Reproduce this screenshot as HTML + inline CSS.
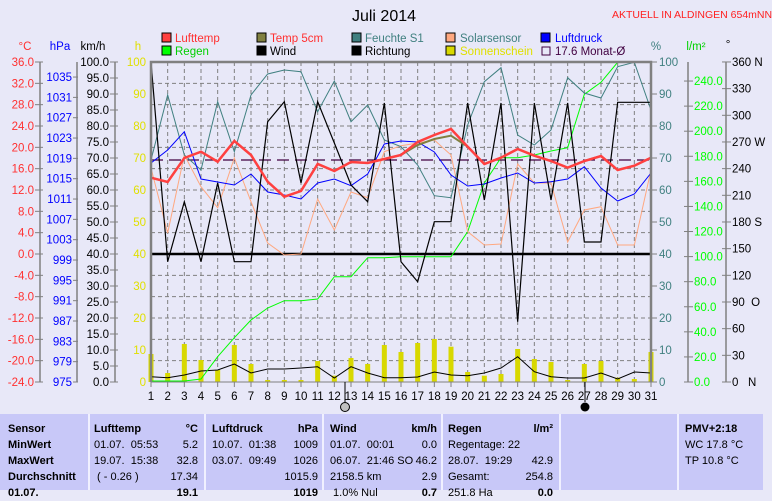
<!DOCTYPE html>
<html><head><meta charset="utf-8"><style>
body{margin:0;background:#e8e8f8;width:772px;height:490px;overflow:hidden;font-family:"Liberation Sans",sans-serif}
svg{position:absolute;left:0;top:0}
text{font-family:"Liberation Sans",sans-serif}
</style></head><body>
<svg id="s" width="772" height="490" xmlns="http://www.w3.org/2000/svg">
<rect width="772" height="490" fill="#e8e8f8"/>
<text x="384" y="21" font-size="16" text-anchor="middle" fill="#000">Juli 2014</text>
<text x="612" y="18" font-size="10.5" fill="#ff2020">AKTUELL IN ALDINGEN 654mNN</text>
<g font-size="11.5">
<rect x="162" y="33" width="9" height="9" fill="#ff4040" stroke="#000"/><text x="175" y="42" fill="#ff3030">Lufttemp</text>
<rect x="257" y="33" width="9" height="9" fill="#808040" stroke="#000"/><text x="270" y="42" fill="#ff3030">Temp 5cm</text>
<rect x="352" y="33" width="9" height="9" fill="#408080" stroke="#000"/><text x="365" y="42" fill="#408080">Feuchte S1</text>
<rect x="446" y="33" width="9" height="9" fill="#ffa880" stroke="#000"/><text x="460" y="42" fill="#408080">Solarsensor</text>
<rect x="541" y="33" width="9" height="9" fill="#0000ff" stroke="#000"/><text x="555" y="42" fill="#0000ff">Luftdruck</text>
<rect x="162" y="46" width="9" height="9" fill="#00ff00" stroke="#000"/><text x="175" y="55" fill="#00d000">Regen</text>
<rect x="257" y="46" width="9" height="9" fill="#000" stroke="#000"/><text x="270" y="55" fill="#000">Wind</text>
<rect x="352" y="46" width="9" height="9" fill="#000" stroke="#000"/><text x="365" y="55" fill="#000">Richtung</text>
<rect x="446" y="46" width="9" height="9" fill="#d8d800" stroke="#000"/><text x="460" y="55" fill="#e0e000">Sonnenschein</text>
<rect x="542" y="47" width="8" height="8" fill="none" stroke="#400040"/><text x="555" y="55" fill="#400040">17.6 Monat-Ø</text>
<text x="25" y="50" fill="#ff3030" text-anchor="middle">°C</text>
<text x="60" y="50" fill="#0000ff" text-anchor="middle">hPa</text>
<text x="93" y="50" fill="#000" text-anchor="middle">km/h</text>
<text x="138" y="50" fill="#e0e000" text-anchor="middle">h</text>
<text x="656" y="50" fill="#408080" text-anchor="middle">%</text>
<text x="696" y="50" fill="#00d000" text-anchor="middle">l/m²</text>
<text x="728" y="48" fill="#000" text-anchor="middle">°</text>
</g>
<g id="g"></g>
</svg>
<script>
var ns="http://www.w3.org/2000/svg",g=document.getElementById("g");
function el(t,a,txt){var e=document.createElementNS(ns,t);for(var k in a)e.setAttribute(k,a[k]);if(txt!==undefined)e.textContent=txt;g.appendChild(e);return e;}
function X(d){return 151+(d-1)*500/30;}
for(var d=2;d<=30;d++)el("line",{x1:X(d),y1:62,x2:X(d),y2:382,stroke:"#808080","stroke-dasharray":"4,3","stroke-width":1});
for(var i=1;i<15;i++){var y=62+i*320/15;el("line",{x1:151,y1:y,x2:651,y2:y,stroke:"#808080","stroke-dasharray":"4,3","stroke-width":1});}
var sun=[354,373,344,360,370,345,364,380,380,380,361,375.7,358,364,345,352,343,339,346.7,372,375.7,374,349,359,362,380,364,361,377.7,379,352];
sun.forEach(function(t,i){var x=X(i+1);el("rect",{x:x-2.5,y:t,width:5,height:382-t,fill:"#d8d800"});});
function pl(ys,col,w){var p=ys.map(function(y,i){return X(i+1)+","+y;}).join(" ");el("polyline",{points:p,fill:"none",stroke:col,"stroke-width":w});}
el("line",{x1:151,y1:254,x2:651,y2:254,stroke:"#000","stroke-width":2.5});
el("line",{x1:151,y1:160,x2:651,y2:160,stroke:"#400040","stroke-width":1.2,"stroke-dasharray":"12,6"});
pl([376.7,377.7,375,371,370,364,373,369,369,368,366.7,378,366.7,373,377.7,377.7,377,372,375,375.7,373,368,356.7,371.7,376.7,378,378,373,379,372,373],"#000",1);
pl([381,381,381,379,356.7,337.7,320,308,300.7,300.7,299,276.7,276.7,257.7,257.7,256.7,256.7,256.7,256.7,231.7,183,157.7,157.7,155,151,147.7,94.3,82.3,62.3,61.7,61.7],"#00ff00",1);
pl([168,233,155,186.7,207.7,158,201.7,243,255,254,199,230,192,197.7,151.7,145.7,143,140,155,231.7,245,244,164,183,183,242,210,206.7,245,245,170],"#ffa880",1);
pl([160,95,155,170,101.7,151.7,95,74,70,71.7,111.7,81,121.7,105,140,146.7,165,195.7,197.7,125,81.7,67.7,135,145,130,77.7,93,98,66.7,62.3,110],"#408080",1);
pl([163,150,131.7,179,182,185,174,192,195,199,183,179,185.7,174,144,141,142,152,175,186,184,178,173,183,181.7,179,166.7,188,201,194,173],"#0000ff",1);
pl([62,261.7,201.7,261.7,183,261.7,261.7,121.7,101.7,183,101.7,143,185,201.7,103,261.7,281.7,221.7,221.7,103,200,103,321.7,103,200,103,242,242,102.3,102.3,102.3],"#000",1.2);
var lt=[177.7,182,158,151.7,161.7,141,155,181.7,196.7,191,164,171,162,163,159,155,142,135,129,146.7,164,157.7,149,155.7,161,167.7,161,156,170,165.7,157.7];
var t5=lt.slice();t5[17]=139;t5[18]=135.7;t5[16]=145;
pl(t5,"#808040",2);
pl(lt,"#ff4040",2.5);
el("polyline",{points:"151,382 151,62 651,62 651,382",fill:"none",stroke:"#808080","stroke-width":2.5});
el("line",{x1:151,y1:382,x2:651,y2:382,stroke:"#808080","stroke-width":1});
for(var d=1;d<=31;d++){el("line",{x1:X(d),y1:382,x2:X(d),y2:387,stroke:"#808080"});el("text",{x:X(d),y:400,"font-size":11.5,"text-anchor":"middle"},""+d);}
el("circle",{cx:345,cy:407,r:4.5,fill:"#c0c0c0",stroke:"#000"});
el("circle",{cx:585,cy:407,r:4.5,fill:"#000"});
el("line",{x1:345,y1:382,x2:345,y2:402,stroke:"#000"});
el("line",{x1:585,y1:382,x2:585,y2:402,stroke:"#000"});
var ax=[40,77,115];ax.forEach(function(x){el("line",{x1:x,y1:62,x2:x,y2:382,stroke:"#808080","stroke-width":1.5});});
for(var i=0;i<=15;i++){var y=62+i*320/15,v=36-4*i;
 el("line",{x1:35,y1:y,x2:43,y2:y,stroke:"#808080"});
 el("text",{x:34,y:y+4,"font-size":11.5,fill:"#ff3030","text-anchor":"end"},v.toFixed(1));}
for(var i=0;i<=15;i++){var y=382-i*20.33,v=975+4*i;
 el("line",{x1:73,y1:y,x2:78,y2:y,stroke:"#808080"});
 el("text",{x:72,y:y+4,"font-size":11.5,fill:"#0000ff","text-anchor":"end"},""+v);}
for(var i=0;i<=20;i++){var y=382-i*16,v=5*i;
 el("line",{x1:110,y1:y,x2:118,y2:y,stroke:"#808080"});
 el("text",{x:109,y:y+4,"font-size":11.5,fill:"#000","text-anchor":"end"},v.toFixed(1));}
for(var i=0;i<=10;i++){var y=382-i*32;
 el("text",{x:146,y:y+4,"font-size":11.5,fill:"#e0e000","text-anchor":"end"},""+(10*i));
 el("text",{x:659,y:y+4,"font-size":11.5,fill:"#408080"},""+(10*i));
 el("line",{x1:651,y1:y,x2:657,y2:y,stroke:"#808080"});}
el("line",{x1:688,y1:62,x2:688,y2:382,stroke:"#808080","stroke-width":1.5});
for(var i=0;i<=12;i++){var y=382-i*25.08;
 el("line",{x1:684,y1:y,x2:693,y2:y,stroke:"#808080"});
 el("text",{x:694,y:y+4,"font-size":11.5,fill:"#00ff00"},(20*i).toFixed(1));}
el("line",{x1:726,y1:62,x2:726,y2:382,stroke:"#808080","stroke-width":1.5});
var dl=["0   N","30","60","90  O","120","150","180 S","210","240","270 W","300","330","360 N"];
for(var i=0;i<=12;i++){var y=382-i*26.67;
 el("line",{x1:722,y1:y,x2:731,y2:y,stroke:"#808080"});
 var t=el("text",{x:732,y:y+4,"font-size":11.5,fill:"#000"},dl[i]);t.style.whiteSpace="pre";}
</script>
<div style="position:absolute;left:0;top:414px;width:763px;height:76px;background:#c8c8f8"></div>
<div style="position:absolute;top:414px;left:88px;width:2px;height:76px;background:#f0f0ff"></div>
<div style="position:absolute;top:414px;left:204px;width:2px;height:76px;background:#f0f0ff"></div>
<div style="position:absolute;top:414px;left:322px;width:2px;height:76px;background:#f0f0ff"></div>
<div style="position:absolute;top:414px;left:441px;width:2px;height:76px;background:#f0f0ff"></div>
<div style="position:absolute;top:414px;left:559px;width:2px;height:76px;background:#f0f0ff"></div>
<div style="position:absolute;top:414px;left:677px;width:2px;height:76px;background:#f0f0ff"></div>
<div style="position:absolute;top:421px;left:0;width:772px;font-size:11px;line-height:16px">
<div style="position:absolute;left:8px;font-weight:bold">Sensor<br>MinWert<br>MaxWert<br>Durchschnitt<br>01.07.</div>
<div style="position:absolute;left:94px;width:104px"><b>Lufttemp</b><br>01.07. &nbsp;05:53<br>19.07. &nbsp;15:38<br>&nbsp;( - 0.26 )<br></div>
<div style="position:absolute;left:94px;width:104px;text-align:right"><b>°C</b><br>5.2<br>32.8<br>17.34<br><b>19.1</b></div>
<div style="position:absolute;left:212px;width:106px"><b>Luftdruck</b><br>10.07. &nbsp;01:38<br>03.07. &nbsp;09:49</div>
<div style="position:absolute;left:212px;width:106px;text-align:right"><b>hPa</b><br>1009<br>1026<br>1015.9<br><b>1019</b></div>
<div style="position:absolute;left:330px;width:107px"><b>Wind</b><br>01.07. &nbsp;00:01<br>06.07. &nbsp;21:46 SO<br>2158.5 km<br>&nbsp;1.0% Nul</div>
<div style="position:absolute;left:330px;width:107px;text-align:right"><b>km/h</b><br>0.0<br>46.2<br>2.9<br><b>0.7</b></div>
<div style="position:absolute;left:448px;width:105px"><b>Regen</b><br>Regentage: 22<br>28.07. &nbsp;19:29<br>Gesamt:<br>251.8 Ha</div>
<div style="position:absolute;left:448px;width:105px;text-align:right"><b>l/m²</b><br><br>42.9<br>254.8<br><b>0.0</b></div>
<div style="position:absolute;left:685px"><b>PMV+2:18</b><br>WC 17.8 °C<br>TP 10.8 °C</div>
</div>
</body></html>
